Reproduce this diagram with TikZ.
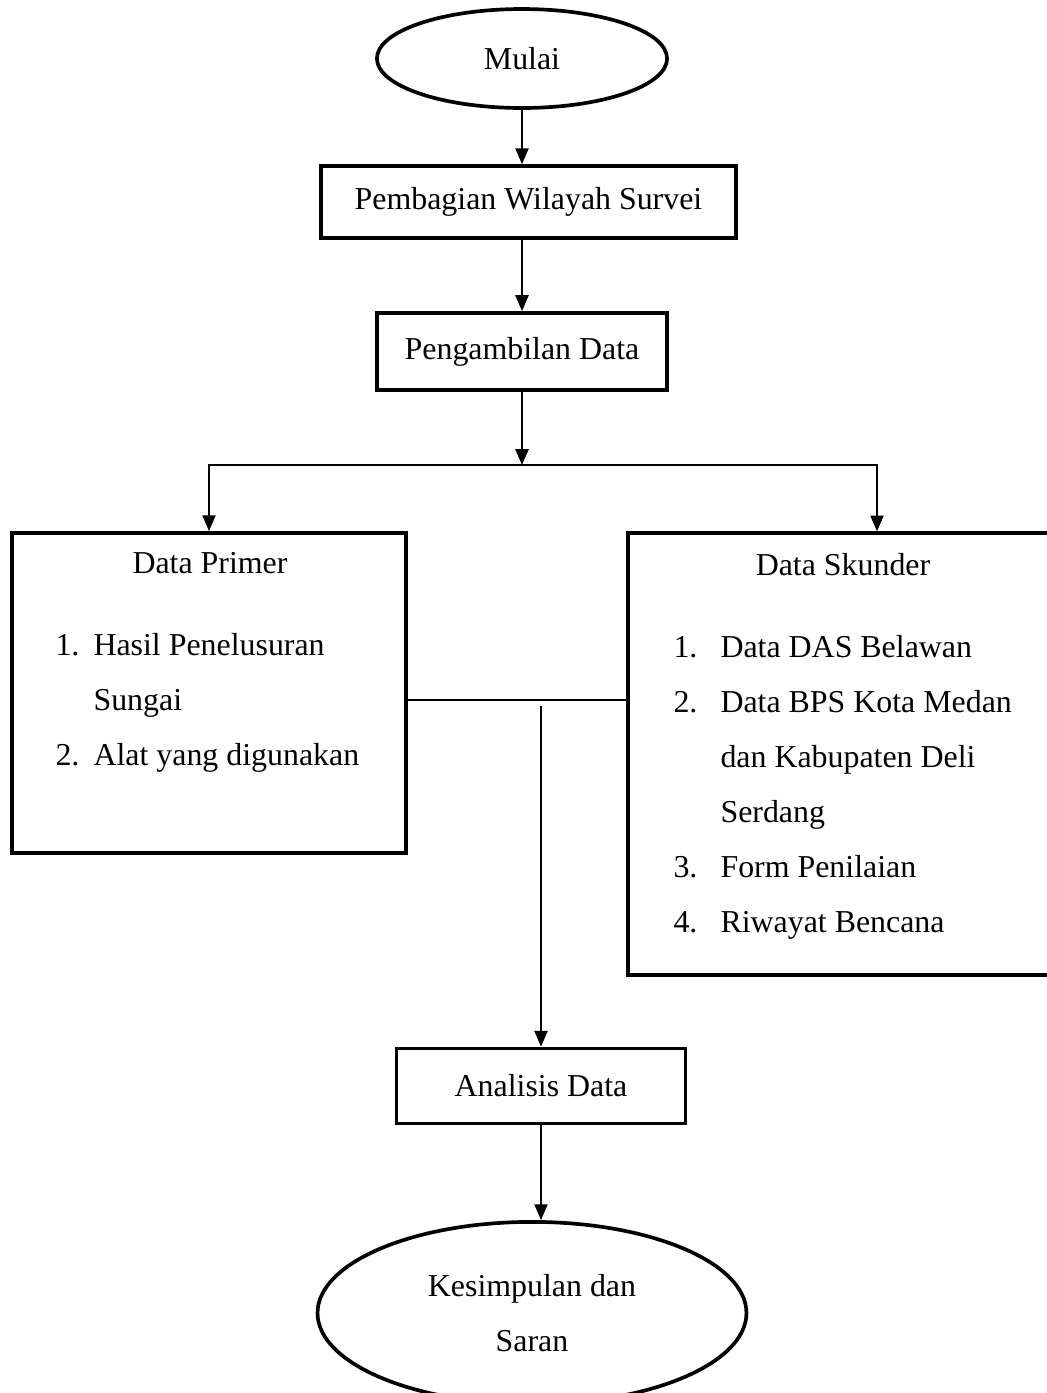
\documentclass[tikz,border=0pt]{standalone}
\usepackage{fontspec}
\setmainfont{Liberation Serif}
\usetikzlibrary{arrows.meta,shapes.geometric}

\tikzset{
  box/.style={draw, line width=1.4pt, rectangle, inner sep=0pt},
  oval/.style={draw, line width=1.4pt, ellipse, inner sep=0pt},
  garis/.style={line width=0.65pt},
  panah/.style={line width=0.65pt, -{Triangle[length=6pt,width=5pt]}},
  txt/.style={inner sep=0pt, anchor=base west}
}

\begin{document}
\begin{tikzpicture}[x=0.01333cm, y=-0.01333cm, font=\fontsize{12.1}{20.8}\selectfont]
    \useasboundingbox (0,0) rectangle (1047,1393);
    \node[oval, minimum width=3.87cm, minimum height=1.32cm] (mulai) at (522,58.5) {Mulai};
    \node[box, minimum width=5.53cm, minimum height=0.96cm] (bagi) at (528.5,202) {Pembagian Wilayah Survei};
    \node[box, minimum width=3.87cm, minimum height=1.03cm] (ambil) at (522,351.5) {Pengambilan Data};
    \node[box, minimum width=5.25cm, minimum height=4.27cm] (primer) at (209,693) {};
    \node[box, minimum width=6.64cm, minimum height=5.89cm] (skunder) at (877,754) {};
    \node[box, minimum width=3.85cm, minimum height=1cm] (analisis) at (541,1086) {Analisis Data};
    \node[oval, minimum width=5.72cm, minimum height=2.43cm, align=center] (kesimpulan) at (532,1313) {Kesimpulan dan\\Saran};
    \node[txt, anchor=base] (judulprimer) at (210,573) {Data Primer};
    \foreach \i/\y/\num/\isi in {1/655/1./Hasil Penelusuran, 2/710//Sungai, 3/765/2./Alat yang digunakan} {
      \node[txt] (pnum\i) at (55,\y) {\num};
      \node[txt] (pisi\i) at (93,\y) {\isi};
    }
    \node[txt, anchor=base] (judulskunder) at (843,575) {Data Skunder};
    \foreach \i/\y/\num/\isi in {1/657/1./Data DAS Belawan, 2/712/2./Data BPS Kota Medan, 3/767//dan Kabupaten Deli, 4/822//Serdang, 5/877/3./Form Penilaian, 6/932/4./Riwayat Bencana} {
      \node[txt] (snum\i) at (673,\y) {\num};
      \node[txt] (sisi\i) at (720,\y) {\isi};
    }
    \coordinate (cabang) at (522,465);
    \coordinate (temu) at (541,700);
    \coordinate (turun) at (541,706);
    \draw[panah] (mulai.south) -- (mulai.south |- bagi.north);
    \draw[panah] (bagi.south -| ambil.north) -- (ambil.north);
    \draw[panah] (ambil.south) -- (cabang);
    \draw[panah] (cabang) -| (primer.north);
    \draw[panah] (cabang) -| (skunder.north);
    \draw[garis] (temu -| primer.east) -- (temu -| skunder.west);
    \draw[panah] (turun) -- (turun |- analisis.north);
    \draw[panah] (analisis.south) -- (analisis.south |- kesimpulan.north);
  \end{tikzpicture}
\end{document}
